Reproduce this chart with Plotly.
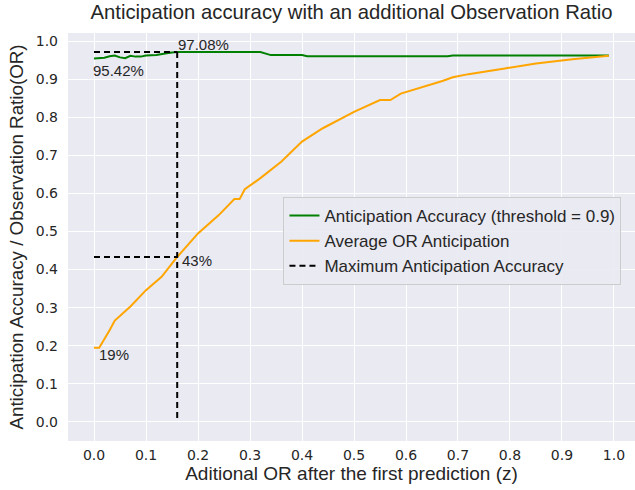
import plotly.graph_objects as go

# --- data ---
acc_z = [0.00, 0.01, 0.02, 0.03, 0.04, 0.05, 0.06, 0.07, 0.08, 0.09, 0.10, 0.12, 0.13, 0.14, 0.15, 0.16,
         0.32, 0.33, 0.34, 0.40, 0.41, 0.68, 0.69, 0.99]
acc_v = [0.9542, 0.9545, 0.956, 0.960, 0.962, 0.957, 0.955, 0.961, 0.959, 0.959, 0.962, 0.963, 0.966, 0.968, 0.970, 0.9708,
         0.9708, 0.966, 0.963, 0.963, 0.960, 0.960, 0.962, 0.962]

or_z = [0.00, 0.01, 0.03, 0.04, 0.07, 0.10, 0.13, 0.16, 0.20, 0.24, 0.27, 0.28, 0.29, 0.32, 0.36, 0.40,
        0.44, 0.50, 0.55, 0.57, 0.59, 0.63, 0.67, 0.69, 0.72, 0.79, 0.85, 0.92, 0.99]
or_v = [0.195, 0.195, 0.241, 0.266, 0.303, 0.346, 0.381, 0.433, 0.495, 0.543, 0.585, 0.585, 0.611, 0.640, 0.683, 0.736,
        0.771, 0.814, 0.845, 0.845, 0.862, 0.878, 0.895, 0.905, 0.913, 0.928, 0.941, 0.952, 0.961]

best_z = 0.16
best_acc = 0.9708
best_or = 0.433
first_acc = 0.9542
first_or = 0.195

tick_vals = [0.0, 0.1, 0.2, 0.3, 0.4, 0.5, 0.6, 0.7, 0.8, 0.9, 1.0]
tick_text = ["0.0", "0.1", "0.2", "0.3", "0.4", "0.5", "0.6", "0.7", "0.8", "0.9", "1.0"]

title = "Anticipation accuracy with an additional Observation Ratio"
xlabel = "Aditional OR after the first prediction (z)"
ylabel = "Anticipation Accuracy / Observation Ratio(OR)"
names = ["Anticipation Accuracy (threshold = 0.9)", "Average OR Anticipation", "Maximum Anticipation Accuracy"]

SANS = "Liberation Sans, Arial, sans-serif"
TICK = "DejaVu Sans, sans-serif"
TXT = "#262626"

fig = go.Figure()
fig.add_trace(go.Scatter(x=acc_z, y=acc_v, mode="lines", name=names[0],
                         line=dict(color="green", width=2)))
fig.add_trace(go.Scatter(x=or_z, y=or_v, mode="lines", name=names[1],
                         line=dict(color="orange", width=2)))
fig.add_trace(go.Scatter(
    x=[0, best_z, None, best_z, best_z, None, 0, best_z],
    y=[best_acc, best_acc, None, best_acc, 0, None, best_or, best_or],
    mode="lines", name=names[2],
    line=dict(color="black", width=2, dash="6px,4px")))

ann_font = dict(family=SANS, size=15, color=TXT)
fig.add_annotation(x=best_z, y=best_acc, text=f"{best_acc*100:.2f}%", showarrow=False,
                   xanchor="left", yanchor="bottom", xshift=-1, yshift=-3, font=ann_font)
fig.add_annotation(x=0, y=first_acc, text=f"{first_acc*100:.2f}%", showarrow=False,
                   xanchor="left", yanchor="top", xshift=-3, yshift=-2, font=ann_font)
fig.add_annotation(x=best_z, y=best_or, text=f"{round(best_or*100)}%", showarrow=False,
                   xanchor="left", yanchor="top", xshift=3, yshift=7, font=ann_font)
fig.add_annotation(x=0.01, y=first_or, text=f"{int(first_or*100)}%", showarrow=False,
                   xanchor="left", yanchor="top", xshift=-2, yshift=4, font=ann_font)

fig.update_layout(
    width=635, height=490,
    margin=dict(l=68, r=0, t=33, b=49, autoexpand=False),
    paper_bgcolor="white", plot_bgcolor="#EAEAF2",
    title=dict(text=title, x=(68 + 635) / 2 / 635, xanchor="center", y=1 - 12 / 490, yanchor="middle",
               automargin=False, font=dict(family=SANS, size=20.3, color=TXT)),
    legend=dict(x=0.38, y=0.598, xanchor="left", yanchor="top",
                bgcolor="rgba(234,234,242,0.9)", bordercolor="#cccccc", borderwidth=1,
                font=dict(family=SANS, size=17, color=TXT), tracegroupgap=0),
    showlegend=True,
)
fig.update_xaxes(range=[-0.05, 1.0404], tickvals=tick_vals, ticktext=tick_text, automargin=False,
                 showgrid=True, gridcolor="white", gridwidth=1.2, zeroline=False, showline=False,
                 ticks="", ticklabelstandoff=4,
                 tickfont=dict(family=TICK, size=14, color=TXT),
                 title=dict(text=xlabel, standoff=3, font=dict(family=SANS, size=19, color=TXT)))
fig.update_yaxes(range=[-0.05, 1.021], tickvals=tick_vals, ticktext=tick_text, automargin=False,
                 showgrid=True, gridcolor="white", gridwidth=1.2, zeroline=False, showline=False,
                 ticks="", ticklabelstandoff=9,
                 tickfont=dict(family=TICK, size=14, color=TXT),
                 title=dict(text=ylabel, standoff=7, font=dict(family=SANS, size=18.8, color=TXT)))

fig.write_html("out.html", config={"displayModeBar": False},
               post_script="document.body.style.margin='0';document.body.style.overflow='hidden';")
